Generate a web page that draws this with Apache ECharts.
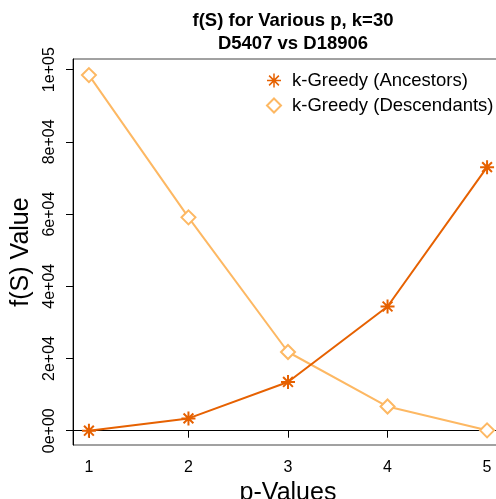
<!DOCTYPE html>
<html>
<head>
<meta charset="utf-8">
<script src="https://cdn.jsdelivr.net/npm/echarts@6/dist/echarts.min.js"></script>
<style>
html,body{margin:0;padding:0;background:#fff;}
#main{width:496px;height:499px;}
</style>
</head>
<body>
<div id="main"></div>
<script>
var pValues = [1, 2, 3, 4, 5];
var ancestors = [0, 3400, 13500, 34400, 73000];
var descendants = [98500, 59100, 21800, 6700, 100];
var yTicks = [0, 20000, 40000, 60000, 80000, 100000];
var yTickLabels = ['0e+00', '2e+04', '4e+04', '6e+04', '8e+04', '1e+05'];
var xTicks = [1, 2, 3, 4, 5];

var FONT = '"Liberation Sans", Arial, sans-serif';
var DARK = '#E66101';
var LIGHT = '#FDB863';
var STAR = 'path://M0,-10L0,10M-10,0L10,0M-7,-7L7,7M-7,7L7,-7';

var chart = echarts.init(document.getElementById('main'), null, {renderer: 'canvas'});
chart.setOption({
  animation: false,
  backgroundColor: '#fff',
  title: {
    text: 'f(S) for Various p, k=30\nD5407 vs D18906',
    left: 288,
    top: 4,
    textAlign: 'center',
    textStyle: {fontFamily: FONT, fontWeight: 'bold', fontSize: 18.5, lineHeight: 23, color: '#000'}
  },
  legend: {
    left: 261,
    top: 66,
    orient: 'vertical',
    itemGap: 6,
    itemWidth: 14,
    itemHeight: 14,
    textStyle: {fontFamily: FONT, fontSize: 18.5, lineHeight: 18, color: '#000', padding: [0, 0, 0, 6]},
    data: [
      {name: 'k-Greedy (Ancestors)', icon: STAR, itemStyle: {color: DARK, borderColor: DARK, borderWidth: 1.5}},
      {name: 'k-Greedy (Descendants)', icon: 'emptyDiamond', itemStyle: {color: LIGHT, borderColor: LIGHT, borderWidth: 1.5}}
    ]
  },
  grid: {
    left: 73, top: 59, width: 430, height: 386,
    outerBoundsMode: 'none',
    containLabel: false,
    show: true, borderColor: '#444', borderWidth: 1, backgroundColor: 'transparent'
  },
  xAxis: {
    type: 'value',
    min: 0.84, max: 5.16,
    name: 'p-Values',
    nameLocation: 'middle',
    nameGap: 28,
    nameTextStyle: {fontFamily: FONT, fontSize: 25, color: '#000'},
    axisLine: {show: true, lineStyle: {color: '#000', width: 1}},
    axisTick: {show: true, length: 7, lineStyle: {color: '#000'}, customValues: xTicks},
    axisLabel: {fontFamily: FONT, fontSize: 16, color: '#000', margin: 15, customValues: xTicks},
    splitLine: {show: false}
  },
  yAxis: {
    type: 'value',
    min: -3960, max: 102960,
    name: 'f(S) Value',
    nameLocation: 'middle',
    nameGap: 35,
    nameTextStyle: {fontFamily: FONT, fontSize: 25, color: '#000'},
    axisLine: {show: true, lineStyle: {color: '#000', width: 1}},
    axisTick: {show: true, length: 7, lineStyle: {color: '#000'}, customValues: yTicks},
    axisLabel: {
      fontFamily: FONT, fontSize: 16, color: '#000', rotate: 90, margin: 15,
      customValues: yTicks,
      formatter: function (v) { var i = yTicks.indexOf(v); return i >= 0 ? yTickLabels[i] : ''; }
    },
    splitLine: {show: false}
  },
  series: [
    {
      name: 'k-Greedy (Ancestors)',
      type: 'line',
      data: pValues.map(function (p, i) { return [p, ancestors[i]]; }),
      symbol: STAR,
      symbolSize: 14,
      lineStyle: {color: DARK, width: 2},
      itemStyle: {color: DARK, borderColor: DARK, borderWidth: 2},
      z: 3
    },
    {
      name: 'k-Greedy (Descendants)',
      type: 'line',
      data: pValues.map(function (p, i) { return [p, descendants[i]]; }),
      symbol: 'emptyDiamond',
      symbolSize: 14,
      lineStyle: {color: LIGHT, width: 2},
      itemStyle: {color: LIGHT, borderWidth: 2},
      z: 2
    }
  ]
});
</script>
</body>
</html>
